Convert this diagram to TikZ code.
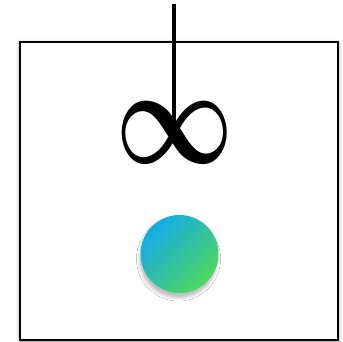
\documentclass[tikz,border=0pt]{standalone}
\usepackage{tikz}
\usetikzlibrary{shadows.blur}
\definecolor{dropblue}{HTML}{16AAE6}
\definecolor{dropgreen}{HTML}{4DD85E}
\tikzset{
    every picture/.style={line cap=butt,line join=miter},
    frame/.style={draw=black,fill=white,line width=2pt,
      blur shadow={shadow xshift=0pt,shadow yshift=-1pt,shadow blur radius=4pt,shadow opacity=45}},
    thread/.style={draw=black,line width=3.2pt},
    knot/.style={inner sep=0pt,outer sep=0pt,anchor=base},
    drop/.style={circle,minimum size=78pt,inner sep=0pt,
      top color=dropblue,bottom color=dropgreen,shading angle=45,
      blur shadow={shadow xshift=-1pt,shadow yshift=-5pt,shadow blur radius=3pt,shadow opacity=25}}
}
\begin{document}
\begin{tikzpicture}[x=1pt,y=-1pt]
  \useasboundingbox (0,0) rectangle (343,342);
  % box
  \node[frame,minimum width=318pt,minimum height=298pt,inner sep=0pt] (box) at (179,191) {};
  % infinity hanging on the thread
  \node[knot] (inf) at (175,164) {\scalebox{10.3}[13.8]{\boldmath$\infty$}};
  \coordinate (hook) at (174,4);
  \coordinate (cross) at (174,134);
  \draw[thread] (hook) -- (cross);
  % ball
  \node[drop] (ball) at (179.5,254) {};
\end{tikzpicture}
\end{document}
